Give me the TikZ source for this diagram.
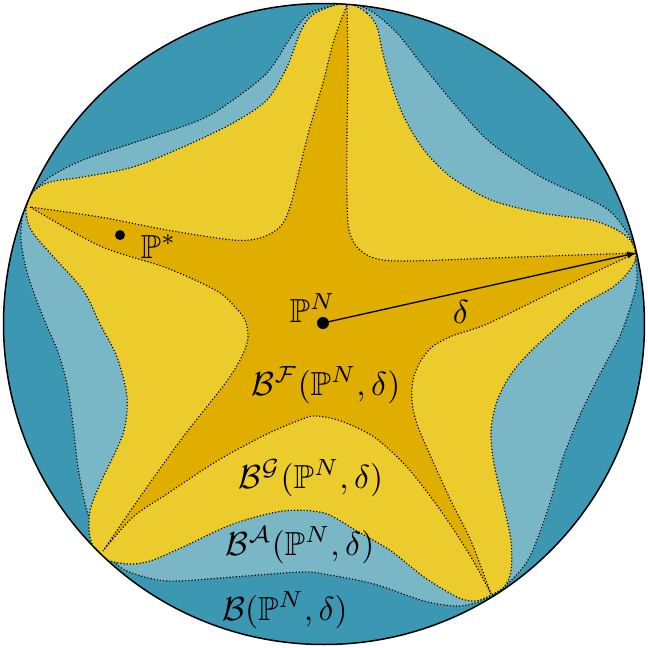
\documentclass[tikz,border=0pt]{standalone}
\usepackage{amssymb}
\usetikzlibrary{arrows.meta}
\definecolor{tealD}{RGB}{60,152,178}
\definecolor{tealL}{RGB}{121,183,198}
\definecolor{goldL}{RGB}{236,203,44}
\definecolor{goldD}{RGB}{224,174,0}
\begin{document}
\begin{tikzpicture}[x=0.3pt,y=-0.3pt,
  region/.style={draw=black, line width=0.35pt, dash pattern=on 0.35pt off 0.6pt},
  lbl/.style={inner sep=0pt},
  dotnode/.style={circle, fill=black, inner sep=0pt, minimum size=#1}]
\useasboundingbox (0,0) rectangle (648,648);
\coordinate (O) at (324,324);
\coordinate (R) at (636,253);
\fill[tealD] (O) circle[radius=96.15pt];
\begin{scope}
\clip (O) circle[radius=96.15pt];
% light teal region
\filldraw[region, fill=tealL] plot[smooth cycle] coordinates {
 (347,3) (357,5) (374,13) (397,33) (424,67) (457,107) (491,143) (541,177) (591,200) (612,213) (630,237) (635,253) (637,280) (632,302) (620,336) (600,374) (580,415) (563,458) (547,512) (528,560) (504,587) (481,601) (457,606) (424,601) (374,584) (324,574) (300,572) (233,577) (167,581) (127,571) (110,557) (100,541) (87,511) (78,467) (73,424) (67,384) (58,352) (46,324) (35,296) (26,268) (21,240) (23,213) (33,193) (50,177) (83,160) (133,143) (200,120) (233,100) (267,73) (287,43) (300,23) (310,13) (324,8)};
% yellow region
\filldraw[region, fill=goldL] plot[smooth cycle] coordinates {
 (347,3) (367,13) (377,27) (382,50) (391,83) (404,117) (424,150) (451,177) (491,200) (541,213) (591,220) (617,230) (631,241) (636,256) (630,270) (613,287) (580,306) (557,327) (531,351) (511,374) (497,401) (491,431) (494,464) (504,507) (511,541) (511,571) (504,587) (487,597) (474,601) (457,597) (424,577) (391,551) (357,531) (324,513) (283,511) (233,524) (183,547) (150,561) (127,564) (100,557) (90,537) (90,511) (100,484) (123,434) (127,397) (117,357) (100,324) (83,290) (50,253) (31,230) (26,210) (33,192) (50,182) (83,177) (133,167) (183,147) (233,123) (267,100) (287,67) (300,33) (310,17) (324,9)};
% dark star
\filldraw[region, fill=goldD]
 plot[smooth] coordinates {(347,5) (348,67) (347,133) (347,200) (349,230) (357,247) (374,258) (407,261) (520,257) (636,253)}
 -- plot[smooth] coordinates {(636,253) (557,290) (487,324) (452,336) (432,347) (420,362) (413,380) (412,401) (417,424) (431,457) (451,501) (471,541) (491,594)}
 -- plot[smooth] coordinates {(491,594) (471,557) (441,511) (407,467) (374,437) (341,421) (315,416) (300,420) (267,434) (217,461) (167,494) (133,517) (103,551)}
 -- plot[smooth] coordinates {(103,551) (140,497) (183,437) (227,381) (243,354) (248,337) (245,320) (235,307) (217,291) (167,268) (100,246) (30,207)}
 -- plot[smooth] coordinates {(30,207) (100,217) (167,230) (233,240) (260,238) (280,227) (290,207) (300,167) (310,127) (323,83) (334,40) (347,5)}
 -- cycle;
\end{scope}
\draw[line width=0.45pt] (O) circle[radius=96.15pt];
% points and labels
\node[dotnode=3.6pt] (pN) at (323,323) {};
\node[dotnode=3pt] (pS) at (120,235) {};
\draw[line width=0.4pt, -{Latex[length=2.6pt,width=2.2pt]}] (pN.center) -- (R);
\node[lbl, anchor=base west] (lPN) at (289,322) {$\mathbb{P}^N$};
\node[lbl, anchor=base west] (lPS) at (140,258) {$\mathbb{P}^*$};
\node[lbl, anchor=base] (ldelta) at (461,323) {$\delta$};
\node[lbl, anchor=base] (lBF) at (326,395) {$\mathcal{B}^{\mathcal{F}}(\mathbb{P}^N,\delta)$};
\node[lbl, anchor=base] (lBG) at (311,488) {$\mathcal{B}^{\mathcal{G}}(\mathbb{P}^N,\delta)$};
\node[lbl, anchor=base] (lBA) at (300,555) {$\mathcal{B}^{\mathcal{A}}(\mathbb{P}^N,\delta)$};
\node[lbl, anchor=base] (lB) at (285,620) {$\mathcal{B}(\mathbb{P}^N,\delta)$};
\end{tikzpicture}
\end{document}
